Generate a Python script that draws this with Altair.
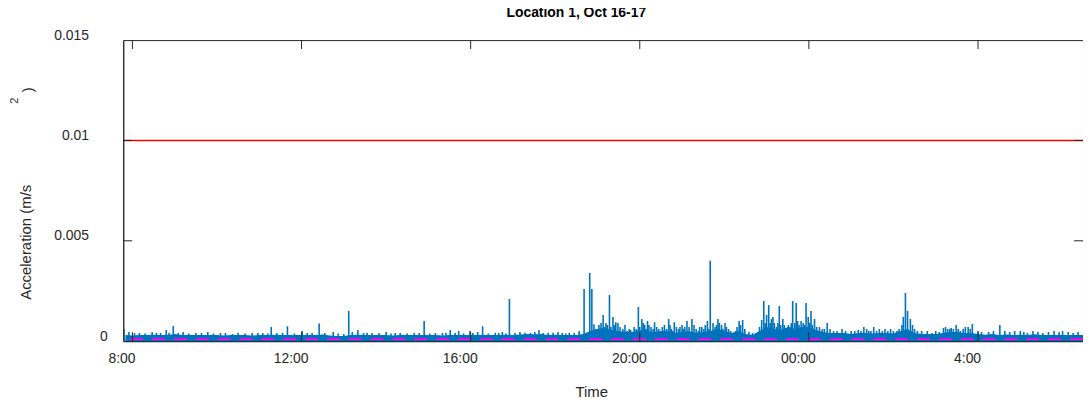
import altair as alt
import pandas as pd

# ---------------- data ----------------
TITLE = "Location 1, Oct 16-17"
X_TITLE = "Time"
Y_TITLE = "Acceleration (m/s"
Y_TITLE_FRAGMENTS = ["2", ")"]

X_TICK_VALUES = [0, 4, 8, 12, 16, 20]          # hours after 8:00
X_TICK_LABELS = ["8:00", "12:00", "16:00", "20:00", "00:00", "4:00"]
Y_TICK_VALUES = [0, 0.005, 0.01, 0.015]
X_DOMAIN = ["07:47", "06:29"]

THRESHOLD = 0.01          # red line
NOISE_FLOOR = 0.0001      # magenta dashed line

# background level, one value every 10 minutes from 07:50
BASE_START = "07:50"
BASE_STEP_MIN = 10
BASE_VALUES = [
    0.0003,
    0.00028, 0.0003, 0.0003, 0.00032, 0.0003, 0.0003,        # 08
    0.00035, 0.0003, 0.0003, 0.0003, 0.00031, 0.0003,        # 09
    0.0003, 0.00028, 0.0003, 0.0003, 0.0003, 0.00028,        # 10
    0.0003, 0.0003, 0.00032, 0.0003, 0.0003, 0.0003,         # 11
    0.00031, 0.0003, 0.0003, 0.00033, 0.00028, 0.00026,      # 12
    0.00025, 0.0003, 0.00032, 0.0003, 0.0003, 0.0003,        # 13
    0.0003, 0.00028, 0.0003, 0.0003, 0.0003, 0.0003,         # 14
    0.0003, 0.0003, 0.00028, 0.0003, 0.00031, 0.0003,        # 15
    0.0003, 0.0003, 0.0003, 0.0003, 0.0003, 0.00032,         # 16
    0.0003, 0.00033, 0.00036, 0.00034, 0.00035, 0.0003,      # 17
    0.00032, 0.0003, 0.0003, 0.0003, 0.00035, 0.0005,        # 18
    0.0006, 0.00065, 0.00055, 0.0005, 0.00045, 0.00045,      # 19
    0.00055, 0.0005, 0.00045, 0.0005, 0.0005, 0.0004,        # 20
    0.00045, 0.0005, 0.0004, 0.00045, 0.0005, 0.0006,        # 21
    0.0005, 0.0004, 0.0005, 0.00035, 0.0003, 0.0005,         # 22
    0.0007, 0.0006, 0.00055, 0.0007, 0.0006, 0.0007,         # 23
    0.0007, 0.00055, 0.00045, 0.0004, 0.0004, 0.0004,        # 00
    0.00036, 0.0004, 0.0004, 0.00038, 0.0004, 0.0004,        # 01
    0.00038, 0.0005, 0.0006, 0.0004, 0.00035, 0.00035,       # 02
    0.00035, 0.0004, 0.00045, 0.00045, 0.0004, 0.0004,       # 03
    0.00035, 0.00032, 0.00035, 0.0003, 0.00033, 0.0003,      # 04
    0.00032, 0.0003, 0.00034, 0.0003, 0.0003, 0.00031,       # 05
    0.0003, 0.0003, 0.0003, 0.00031,                         # 06
]

# distinct peaks
SPIKE_TIMES = [
    "07:48", "07:55", "08:10", "08:28", "08:40", "08:48", "08:58", "09:12", "09:30", "09:47",
    "10:05", "10:30", "10:50", "11:05", "11:17", "11:40", "12:01", "12:15", "12:25", "12:45",
    "13:07", "13:12", "13:20", "13:40", "14:00", "14:20", "14:40", "14:54", "15:10", "15:31",
    "15:43", "15:59", "16:10", "16:17", "16:35", "16:45", "16:55", "17:10", "17:37", "17:50",
    "18:04", "18:20", "18:34",
    "18:41", "18:49", "18:52", "18:55", "19:02", "19:08", "19:12", "19:17", "19:22", "19:26",
    "19:29", "19:36", "19:47", "19:52", "19:58", "20:03", "20:07", "20:11", "20:16", "20:21",
    "20:27", "20:32", "20:41", "20:45", "20:49", "20:57", "21:02", "21:07", "21:14", "21:20",
    "21:28", "21:36", "21:40", "21:44", "21:51", "21:56", "22:01", "22:06", "22:12", "22:21",
    "22:26", "22:35", "22:45", "22:53", "22:56", "23:00", "23:03", "23:07", "23:11", "23:14",
    "23:18", "23:23", "23:28", "23:33", "23:37", "23:40", "23:42", "23:46", "23:49", "23:56",
    "23:59", "00:03", "00:08", "00:15", "00:26", "00:35", "00:47", "01:00", "01:10", "01:18",
    "01:25", "01:32", "01:40", "01:48", "01:56", "02:05", "02:12", "02:14", "02:17", "02:20",
    "02:24", "02:30", "02:40", "02:55", "03:05", "03:11", "03:17", "03:22", "03:29", "03:35",
    "03:42", "03:46", "03:52", "04:00", "04:15", "04:31", "04:45", "05:00", "05:10", "05:25",
    "05:40", "06:00", "06:15",
]
SPIKE_VALUES = [
    0.0006, 0.00045, 0.0004, 0.00046, 0.0004, 0.00056, 0.00076, 0.00045, 0.0004, 0.00045,
    0.0004, 0.00042, 0.0004, 0.0004, 0.0007, 0.00074, 0.0005, 0.0004, 0.00088, 0.00045,
    0.0015, 0.00045, 0.00055, 0.0004, 0.00045, 0.0004, 0.00042, 0.001, 0.0004, 0.00055,
    0.0005, 0.0005, 0.00045, 0.00074, 0.00042, 0.00045, 0.0021, 0.00045, 0.00055, 0.00042,
    0.00045, 0.00042, 0.0005,
    0.0026, 0.0034, 0.0026, 0.00084, 0.0008, 0.0013, 0.0009, 0.0023, 0.0012, 0.00094,
    0.0009, 0.0006, 0.00055, 0.0007, 0.0017, 0.0011, 0.0008, 0.001, 0.0007, 0.00094,
    0.0006, 0.0007, 0.0011, 0.0006, 0.00094, 0.0007, 0.0006, 0.001, 0.0011, 0.0006,
    0.0007, 0.001, 0.0040, 0.0009, 0.0011, 0.0008, 0.0009, 0.0006, 0.0004, 0.001,
    0.00105, 0.00045, 0.0004, 0.00105, 0.002, 0.0013, 0.0018, 0.0011, 0.0009, 0.0007,
    0.00175, 0.0011, 0.0006, 0.0007, 0.002, 0.0009, 0.0019, 0.0008, 0.001, 0.0019,
    0.0012, 0.0015, 0.0011, 0.0007, 0.0009, 0.0005, 0.0006, 0.0005, 0.00055, 0.0007,
    0.0005, 0.0007, 0.0006, 0.0006, 0.0006, 0.0005, 0.0008, 0.0012, 0.0024, 0.0015,
    0.0011, 0.0006, 0.0005, 0.0004, 0.00045, 0.00065, 0.0006, 0.00065, 0.0008, 0.0005,
    0.0007, 0.0007, 0.00085, 0.0005, 0.00045, 0.0008, 0.00045, 0.0005, 0.0004, 0.00045,
    0.00045, 0.0005, 0.0004,
]

# minor peaks between the distinct ones
MINOR_TIMES = [
    "08:03", "08:18", "08:34", "08:52", "09:05", "09:20", "09:38", "09:55", "10:12", "10:22",
    "10:40", "10:58", "11:12", "11:25", "11:33", "11:50", "12:08", "12:33", "12:52", "13:00",
    "13:28", "13:33", "13:50", "14:07", "14:13", "14:30", "14:47", "15:02", "15:20", "15:25",
    "15:38", "15:50", "16:03", "16:25", "16:40", "16:50", "17:03", "17:17", "17:25", "17:31",
    "17:43", "17:57", "18:10", "18:15", "18:27",
    "18:58", "19:05", "19:10", "19:14", "19:19", "19:24", "19:32", "19:39", "19:42", "19:45",
    "19:55", "20:00", "20:05", "20:09", "20:13", "20:19", "20:24", "20:30", "20:35", "20:38",
    "20:43", "20:47", "20:52", "20:55", "21:00", "21:04", "21:10", "21:17", "21:23", "21:25",
    "21:31", "21:33", "21:38", "21:47", "21:49", "21:53", "21:58", "22:03", "22:09", "22:16",
    "22:18", "22:23", "22:29", "22:40", "22:50", "22:58", "23:05", "23:09", "23:16", "23:20",
    "23:25", "23:31", "23:35", "23:44", "23:52", "23:54", "00:01", "00:05", "00:11", "00:19",
    "00:22", "00:30", "00:40", "00:52", "01:05", "01:14", "01:22", "01:28", "01:36", "01:44",
    "01:52", "02:00", "02:08", "02:27", "02:34", "02:48", "03:00", "03:14", "03:20", "03:25",
    "03:32", "03:39", "03:49", "04:05", "04:22", "04:38", "04:52", "05:05", "05:18", "05:32",
    "05:48", "05:55", "06:08", "06:22",
]
MINOR_VALUES = [
    0.0004, 0.00038, 0.0004, 0.00042, 0.0004, 0.00038, 0.0004, 0.00038, 0.0004, 0.00036,
    0.00038, 0.0004, 0.00038, 0.0004, 0.00042, 0.00038, 0.0004, 0.0004, 0.00038, 0.00036,
    0.0004, 0.00042, 0.0004, 0.00038, 0.0004, 0.00038, 0.0004, 0.00038, 0.0004, 0.00042,
    0.0004, 0.00038, 0.0004, 0.00038, 0.0004, 0.00038, 0.0004, 0.00042, 0.0004, 0.00045,
    0.0004, 0.00042, 0.0004, 0.00038, 0.0004,
    0.0006, 0.0009, 0.0007, 0.0008, 0.0007, 0.0008, 0.0007, 0.0008, 0.0005, 0.0006,
    0.0006, 0.0007, 0.0009, 0.0006, 0.0008, 0.0006, 0.0007, 0.0005, 0.0008, 0.0006,
    0.0008, 0.0005, 0.0007, 0.0006, 0.0008, 0.0007, 0.0007, 0.0008, 0.0005, 0.0007,
    0.0006, 0.0008, 0.0006, 0.0007, 0.0008, 0.0009, 0.0006, 0.0007, 0.0005, 0.0005,
    0.0007, 0.0008, 0.0006, 0.0004, 0.0007, 0.0009, 0.0009, 0.0012, 0.0009, 0.0008,
    0.0008, 0.0008, 0.0009, 0.001, 0.0009, 0.0008, 0.0009, 0.0008, 0.0007, 0.0006,
    0.0006, 0.0006, 0.0005, 0.0005, 0.0005, 0.0005, 0.0006, 0.0005, 0.0005, 0.0005,
    0.0005, 0.0005, 0.0006, 0.0008, 0.0005, 0.0005, 0.0005, 0.0007, 0.0006, 0.0006,
    0.0006, 0.0006, 0.0006, 0.00045, 0.0005, 0.0005, 0.0005, 0.00045, 0.0005, 0.0004,
    0.0005, 0.00045, 0.00045, 0.00045,
]

# ---------------- helpers / tables ----------------
def hours_after_8(t):
    hh, mm = (int(p) for p in t.split(":"))
    h = hh + mm / 60.0
    if hh < 7:
        h += 24
    return h - 8


base_h0 = hours_after_8(BASE_START)
base_df = pd.DataFrame({
    "h": [base_h0 + i * BASE_STEP_MIN / 60.0 for i in range(len(BASE_VALUES))],
    "v": BASE_VALUES,
})
peak_times = SPIKE_TIMES + MINOR_TIMES
peak_values = SPIKE_VALUES + MINOR_VALUES
spike_df = pd.DataFrame({
    "h": [hours_after_8(t) for t in peak_times],
    "v": peak_values,
    "z": [0.0] * len(peak_values),
})
lines_df = pd.DataFrame({"thr": [THRESHOLD], "floor": [NOISE_FLOOR]})
xt_df = pd.DataFrame({"h": X_TICK_VALUES})
yt_df = pd.DataFrame({"v": [v for v in Y_TICK_VALUES if 0 < v < max(Y_TICK_VALUES)]})
frag_df = pd.DataFrame({"t": Y_TITLE_FRAGMENTS})

W, H = 966, 303
FONT = "Liberation Sans"
INK = "#262626"
BLUE = "#0072BD"

x_domain = [hours_after_8(X_DOMAIN[0]), hours_after_8(X_DOMAIN[1])]
label_expr = " : ".join(
    f"datum.value == {v} ? '{l}'" for v, l in zip(X_TICK_VALUES, X_TICK_LABELS)
) + " : ''"

x_scale = alt.Scale(domain=x_domain, nice=False, zero=False)
y_scale = alt.Scale(domain=[0, 0.015], nice=False)

x_axis = alt.Axis(
    values=X_TICK_VALUES, labelExpr=label_expr, ticks=False, grid=False,
    domainColor=INK, domainWidth=1, labelFont=FONT, labelFontSize=14,
    labelColor=INK, labelOffset=-11, labelPadding=11, labelBaseline="top",
    title=X_TITLE, titleFont=FONT, titleFontSize=15, titleFontWeight="normal",
    titleColor=INK, titleX=471, titleY=51, titleBaseline="middle", titleAlign="center",
    zindex=1,
)
y_axis = alt.Axis(
    values=Y_TICK_VALUES, format="~g", ticks=False, grid=False,
    domainColor=INK, domainWidth=1, labelFont=FONT, labelFontSize=14,
    labelColor=INK, labelOffset=-5,
    labelPadding={"condition": {"test": "datum.value == 0", "value": 16}, "value": 35},
    title=Y_TITLE, titleFont=FONT, titleFontSize=15, titleFontWeight="normal",
    titleColor=INK, titleX=-98, titleY=203, titleAngle=270,
    titleBaseline="middle", titleAlign="center",
    zindex=1,
)

area = alt.Chart(base_df).mark_area(color=BLUE, opacity=1, clip=True).encode(
    x=alt.X("h:Q", scale=x_scale, axis=x_axis),
    y=alt.Y("v:Q", scale=y_scale, axis=y_axis),
)
spikes = alt.Chart(spike_df).mark_rule(color=BLUE, strokeWidth=1.6, clip=True).encode(
    x=alt.X("h:Q", scale=x_scale),
    y=alt.Y("v:Q", scale=y_scale),
    y2="z:Q",
)
floor_line = alt.Chart(lines_df).mark_rule(
    color="#FF00FF", strokeWidth=2, strokeDash=[13, 9]
).encode(y=alt.Y("floor:Q", scale=y_scale))
thr_line = alt.Chart(lines_df).mark_rule(color="#FF0000", strokeWidth=1.5).encode(
    y=alt.Y("thr:Q", scale=y_scale)
)

tick_style = dict(color=INK, strokeWidth=1)
bottom_ticks = alt.Chart(xt_df).mark_rule(**tick_style).encode(
    x=alt.X("h:Q", scale=x_scale), y=alt.value(H), y2=alt.value(H - 9))
top_ticks = alt.Chart(xt_df).mark_rule(**tick_style).encode(
    x=alt.X("h:Q", scale=x_scale), y=alt.value(0), y2=alt.value(9))
left_ticks = alt.Chart(yt_df).mark_rule(**tick_style).encode(
    y=alt.Y("v:Q", scale=y_scale), x=alt.value(0), x2=alt.value(9))
right_ticks = alt.Chart(yt_df).mark_rule(**tick_style).encode(
    y=alt.Y("v:Q", scale=y_scale), x=alt.value(W - 9), x2=alt.value(W))

frag_sup = alt.Chart(frag_df).transform_filter(alt.datum.t == "2").mark_text(
    angle=270, font=FONT, fontSize=11, color=INK, baseline="middle", align="center"
).encode(text="t:N", x=alt.value(-109), y=alt.value(61))
frag_par = alt.Chart(frag_df).transform_filter(alt.datum.t == ")").mark_text(
    angle=270, font=FONT, fontSize=15, color=INK, baseline="middle", align="center"
).encode(text="t:N", x=alt.value(-96), y=alt.value(50))

chart = alt.layer(
    area, spikes, floor_line, thr_line,
    bottom_ticks, top_ticks, left_ticks, right_ticks,
    frag_sup, frag_par,
).properties(
    width=W, height=H,
    title=alt.TitleParams(
        TITLE, font=FONT, fontSize=14, fontWeight="bold", color="#000000",
        anchor="middle", frame="group", dx=-27, offset=1, baseline="middle",
    ),
    autosize=alt.AutoSizeParams(type="none"),
    padding={"left": 116, "top": 31, "right": 0, "bottom": 66},
).configure_view(stroke=INK, strokeWidth=1)

chart.save("out.html", embed_options={"renderer": "svg", "actions": False})
